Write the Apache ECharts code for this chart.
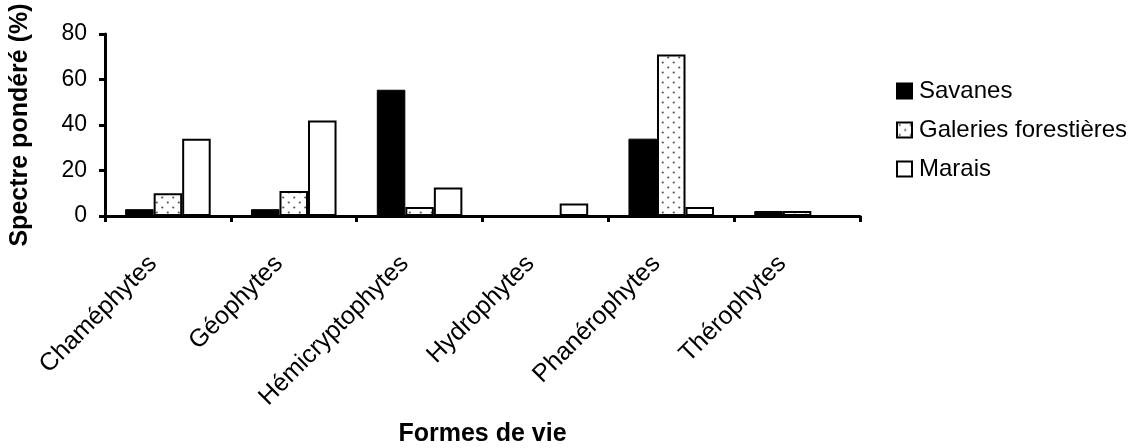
<!DOCTYPE html>
<html>
<head>
<meta charset="utf-8">
<script src="https://cdn.jsdelivr.net/npm/echarts@6/dist/echarts.min.js"></script>
<style>
html,body{margin:0;padding:0;background:#fff;}
#c{width:1134px;height:448px;}
</style>
</head>
<body>
<div id="c"></div>
<script>
const categories = ['Chaméphytes','Géophytes','Hémicryptophytes','Hydrophytes','Phanérophytes','Thérophytes'];
const seriesNames = ['Savanes','Galeries forestières','Marais'];
const savanes = [3, 3, 55.5, 0, 34, 2.2];
const galeries = [10, 11, 4, 0, 71, 2.2];
const marais = [34, 42, 12.5, 5.5, 4, 0];
const yTicks = {min: 0, max: 80, interval: 20};

function dotPattern() {
  const cv = document.createElement('canvas');
  cv.width = 11; cv.height = 10;
  const ctx = cv.getContext('2d');
  ctx.fillStyle = '#fff';
  ctx.fillRect(0, 0, 11, 10);
  ctx.fillStyle = '#555';
  ctx.beginPath(); ctx.arc(2.75, 2.5, 1.1, 0, Math.PI * 2); ctx.fill();
  ctx.beginPath(); ctx.arc(8.25, 7.5, 1.1, 0, Math.PI * 2); ctx.fill();
  return cv;
}

const FONT = "'Liberation Sans', Arial, sans-serif";
const chart = echarts.init(document.getElementById('c'), null, {renderer: 'canvas'});
const pattern = {image: dotPattern(), repeat: 'repeat'};

chart.setOption({
  animation: false,
  backgroundColor: '#fff',
  textStyle: {fontFamily: FONT, color: '#000'},
  grid: {left: 105, right: 274, top: 34, bottom: 232, containLabel: false},
  legend: {
    orient: 'vertical',
    left: 891,
    top: 74,
    itemWidth: 15,
    itemHeight: 15,
    itemGap: 15,
    icon: 'rect',
    textStyle: {fontFamily: FONT, fontSize: 24, color: '#000', padding: [0, 0, 0, 2]},
    data: seriesNames
  },
  xAxis: {
    type: 'category',
    data: categories,
    name: 'Formes de vie',
    nameLocation: 'middle',
    nameGap: 206,
    nameTextStyle: {fontFamily: FONT, fontSize: 25, fontWeight: 'bold', color: '#000'},
    axisLine: {lineStyle: {color: '#000', width: 3}},
    axisTick: {show: true, length: 6, lineStyle: {color: '#000', width: 3}},
    axisLabel: {rotate: 45, fontSize: 25, color: '#000', fontFamily: FONT, margin: 29, padding: [0, 21, 0, 0]}
  },
  yAxis: {
    type: 'value',
    min: yTicks.min,
    max: yTicks.max,
    interval: yTicks.interval,
    name: 'Spectre pondéré (%)',
    nameLocation: 'middle',
    nameRotate: 90,
    nameGap: 72,
    nameTextStyle: {fontFamily: FONT, fontSize: 25, fontWeight: 'bold', color: '#000'},
    splitLine: {show: false},
    axisLine: {show: true, lineStyle: {color: '#000', width: 3}},
    axisTick: {show: true, length: 6, lineStyle: {color: '#000', width: 3}},
    axisLabel: {fontSize: 23, color: '#000', fontFamily: FONT, margin: 18}
  },
  series: [
    {
      name: seriesNames[0], type: 'bar', data: savanes,
      barGap: '0%', barCategoryGap: '32%',
      itemStyle: {color: '#000', borderColor: '#000', borderWidth: 1}
    },
    {
      name: seriesNames[1], type: 'bar', data: galeries,
      barGap: '0%', barCategoryGap: '32%',
      itemStyle: {color: pattern, borderColor: '#000', borderWidth: 2}
    },
    {
      name: seriesNames[2], type: 'bar', data: marais,
      barGap: '0%', barCategoryGap: '32%',
      itemStyle: {color: '#fff', borderColor: '#000', borderWidth: 2}
    }
  ]
});
</script>
</body>
</html>
